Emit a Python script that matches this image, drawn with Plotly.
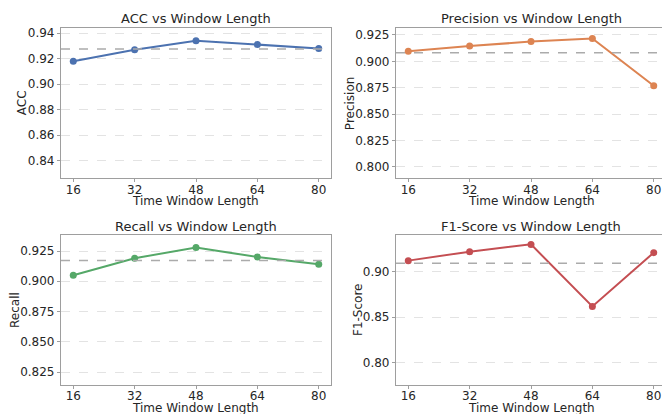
import numpy as np
import plotly.graph_objects as go

window_lengths = [16, 32, 48, 64, 80]
x_labels = ["16", "32", "48", "64", "80"]
acc = [0.918, 0.927, 0.934, 0.931, 0.928]
precision = [0.9095, 0.9145, 0.9187, 0.9216, 0.8768]
recall = [0.905, 0.919, 0.928, 0.920, 0.914]
f1 = [0.9124, 0.9223, 0.9303, 0.8619, 0.9212]

metric_names = ["ACC", "Precision", "Recall", "F1-Score"]
series = [acc, precision, recall, f1]
colors = ["#4C72B0", "#DD8452", "#55A868", "#C44E52"]
tick_steps = [0.02, 0.025, 0.025, 0.05]
tick_formats = [".2f", ".3f", ".3f", ".2f"]

W, H = 662, 414
# panel pixel boxes: (left, right, top, bottom)
boxes = [(61, 331, 28, 178.3), (396, 666, 28, 178.3),
         (61, 331, 235.3, 384.7), (396, 666, 235.3, 384.7)]
ytitle_x = [22, 350, 15, 358]

fig = go.Figure()
annotations = []
shapes = []
font = "DejaVu Sans"
for i, (name, vals, col) in enumerate(zip(metric_names, series, colors)):
    l, r, t, b = boxes[i]
    xa = "xaxis" if i == 0 else f"xaxis{i+1}"
    ya = "yaxis" if i == 0 else f"yaxis{i+1}"
    xr = "x" if i == 0 else f"x{i+1}"
    yr = "y" if i == 0 else f"y{i+1}"
    x_lo, x_hi = 12.8, 83.2
    rr = min(r, W)
    x_hi_vis = x_lo + (x_hi - x_lo) * (rr - l) / (r - l)
    cropped = r > W
    fig.add_trace(go.Scatter(
        x=window_lengths, y=vals, mode="lines+markers",
        line=dict(color=col, width=2), marker=dict(color=col, size=7),
        xaxis=xr, yaxis=yr, showlegend=False, cliponaxis=False))
    ymin = min(vals) * 0.9
    ymax = max(vals) + 0.01
    fig.layout[xa] = dict(
        domain=[l / W, rr / W], range=[x_lo, x_hi_vis], anchor=yr,
        tickvals=window_lengths, ticktext=x_labels, automargin=False,
        showgrid=False, zeroline=False, showline=True, linecolor="#9e9e9e",
        linewidth=1.2, mirror=True, ticks="outside", ticklen=3,
        ticklabelstandoff=-3,
        tickcolor="#9e9e9e", tickfont=dict(family=font, size=12, color="#262626"))
    fig.layout[ya] = dict(
        domain=[1 - b / H, 1 - t / H], range=[ymin, ymax], anchor=xr,
        dtick=tick_steps[i], tick0=0, tickformat=tick_formats[i], automargin=False,
        showgrid=True, gridcolor="#e3e3e3", griddash="dash", gridwidth=0.8,
        zeroline=False, showline=True, linecolor="#9e9e9e", linewidth=1.2,
        mirror=not cropped, ticks="outside", ticklen=3, tickcolor="#9e9e9e",
        tickfont=dict(family=font, size=12, color="#262626"))
    mean_v = float(np.mean(vals))
    shapes.append(dict(type="line", xref=f"{xr} domain", yref=yr,
                       x0=0, x1=1, y0=mean_v, y1=mean_v,
                       line=dict(color="#ababab", width=1.5, dash="dash")))
    cx = (l + r) / 2 / W
    annotations.append(dict(text=f"{name} vs Window Length", xref="paper", yref="paper",
                            x=cx, y=1 - (t - 9) / H, xanchor="center", yanchor="middle",
                            showarrow=False, font=dict(family=font, size=13, color="#262626")))
    annotations.append(dict(text="Time Window Length", xref="paper", yref="paper",
                            x=cx, y=1 - (b + 23) / H, xanchor="center", yanchor="middle",
                            showarrow=False, font=dict(family=font, size=12, color="#262626")))
    annotations.append(dict(text=name, xref="paper", yref="paper",
                            x=ytitle_x[i] / W, y=1 - (t + b) / 2 / H, xanchor="center",
                            yanchor="middle", textangle=-90, showarrow=False,
                            font=dict(family=font, size=12, color="#262626")))

fig.update_layout(width=W, height=H, margin=dict(l=0, r=0, t=0, b=0),
                  plot_bgcolor="white", paper_bgcolor="white",
                  annotations=annotations, shapes=shapes)
fig.write_html("out.html", config={"displayModeBar": False},
               post_script="document.body.style.margin='0';document.body.style.overflow='hidden';")
